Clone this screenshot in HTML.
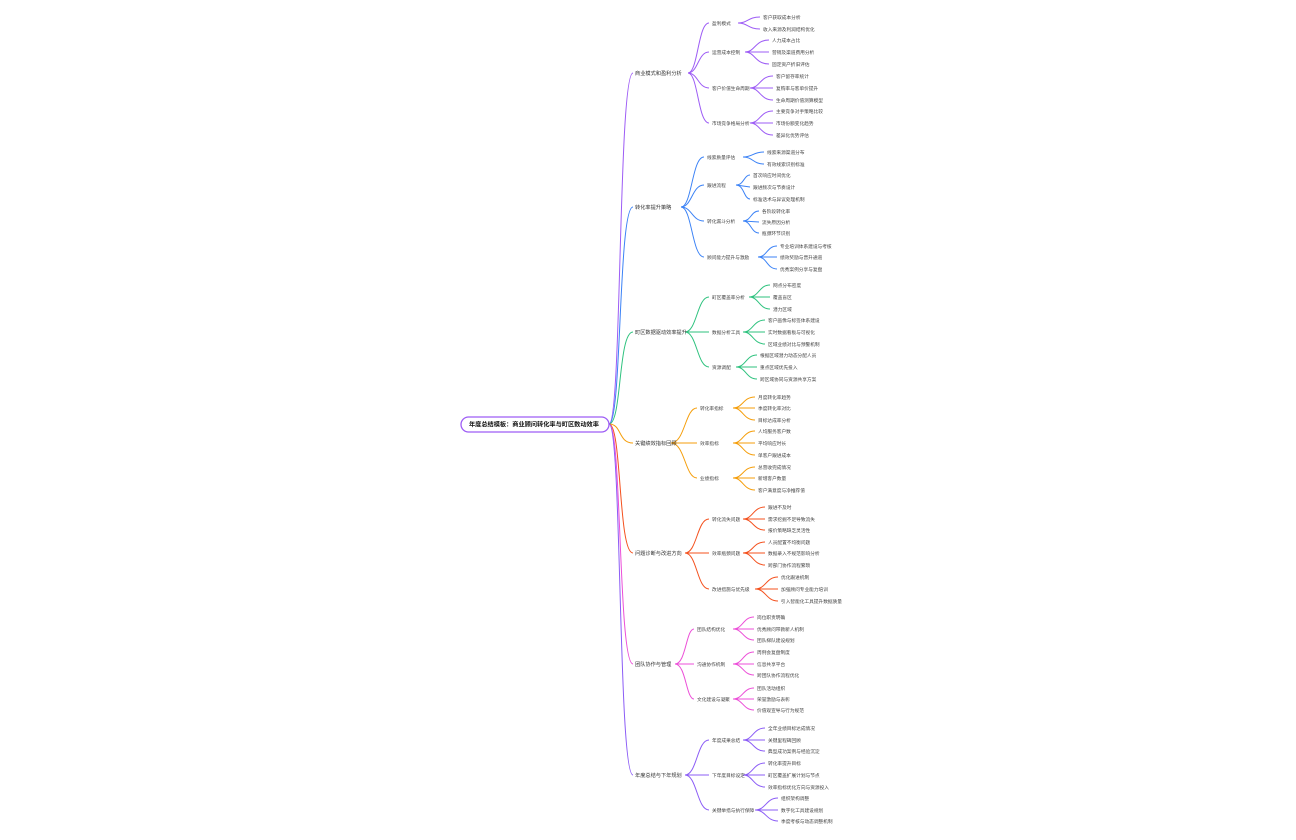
<!DOCTYPE html>
<html><head><meta charset="utf-8"><style>
html,body{margin:0;padding:0;background:#fff;}
svg{display:block;}
text{font-family:"Liberation Sans","Noto Sans CJK SC",sans-serif;font-size:4.7px;fill:#444;}
.l1{font-size:5.2px;fill:#333;}
.root{font-size:6.2px;font-weight:bold;fill:#111;}
path{fill:none;stroke-width:1;}
</style></head><body>
<svg width="1296" height="840" viewBox="0 0 1296 840" xmlns="http://www.w3.org/2000/svg">
<path d="M609,424 C622,424 618,73 633,73" stroke="#9d5cf5"/>
<path d="M609,424 C622,424 618,207 633,207" stroke="#3b82f6"/>
<path d="M609,424 C622,424 618,332 633,332" stroke="#2ec27e"/>
<path d="M609,424 C622,424 618,443 633,443" stroke="#f59e0b"/>
<path d="M609,424 C622,424 618,553 633,553" stroke="#f4511e"/>
<path d="M609,424 C622,424 618,664 633,664" stroke="#ec4fd8"/>
<path d="M609,424 C622,424 618,775 633,775" stroke="#8b5cf6"/>

<rect x="461" y="417" width="148" height="15" rx="7.5" fill="#fff" stroke="#9d5cf5" stroke-width="1.3"/>
<text class="root" x="469" y="426.5">年度总结模板：商业顾问转化率与町区数动效率</text>

<g stroke="#9d5cf5">
<path d="M688,73 C698,73 698,23 709,23"/><path d="M688,73 C698,73 698,52 709,52"/><path d="M688,73 C698,73 698,88 709,88"/><path d="M688,73 C698,73 698,123 709,123"/>
<path d="M738,23 C748,23 748,17 760,17"/><path d="M738,23 C748,23 748,29 760,29"/>
<path d="M745,52 C755,52 755,40 769,40"/><path d="M745,52 L769,52"/><path d="M745,52 C755,52 755,64 769,64"/>
<path d="M750,88 C760,88 760,76 773,76"/><path d="M750,88 L773,88"/><path d="M750,88 C760,88 760,100 773,100"/>
<path d="M750,123 C760,123 760,111 773,111"/><path d="M750,123 L773,123"/><path d="M750,123 C760,123 760,135 773,135"/>
</g>
<text class="l1" x="635" y="75">商业模式和盈利分析</text>
<text x="712" y="25">盈利模式</text><text x="763" y="19">客户获取成本分析</text><text x="763" y="31">收入来源及利润结构优化</text>
<text x="712" y="54">运营成本控制</text><text x="772" y="42">人力成本占比</text><text x="772" y="54">营销及渠道费用分析</text><text x="772" y="66">固定资产折旧评估</text>
<text x="712" y="90">客户价值生命周期</text><text x="776" y="78">客户留存率统计</text><text x="776" y="90">复购率与客单价提升</text><text x="776" y="102">生命周期价值测算模型</text>
<text x="712" y="125">市场竞争格局分析</text><text x="776" y="113">主要竞争对手策略比较</text><text x="776" y="125">市场份额变化趋势</text><text x="776" y="137">差异化优势评估</text>

<g stroke="#3b82f6">
<path d="M681,207 C692,207 692,157 704,157"/><path d="M681,207 C692,207 692,185 704,185"/><path d="M681,207 C692,207 692,221 704,221"/><path d="M681,207 C692,207 692,257 704,257"/>
<path d="M743,157 C753,157 753,152 764,152"/><path d="M743,157 C753,157 753,164 764,164"/>
<path d="M736,185 C744,185 744,175 750,175"/><path d="M736,185 L750,187"/><path d="M736,185 C744,185 744,199 750,199"/>
<path d="M743,221 C751,221 751,211 759,211"/><path d="M743,221 L759,222"/><path d="M743,221 C751,221 751,233 759,233"/>
<path d="M758,257 C767,257 767,246 777,246"/><path d="M758,257 L777,257"/><path d="M758,257 C767,257 767,269 777,269"/>
</g>
<text class="l1" x="635" y="209">转化率提升策略</text>
<text x="707" y="159">线索质量评估</text><text x="767" y="154">线索来源渠道分布</text><text x="767" y="166">有效线索识别标准</text>
<text x="707" y="187">跟进流程</text><text x="753" y="177">首次响应时间优化</text><text x="753" y="189">跟进频次与节奏设计</text><text x="753" y="201">标准话术与异议处理机制</text>
<text x="707" y="223">转化漏斗分析</text><text x="762" y="213">各阶段转化率</text><text x="762" y="224">流失原因分析</text><text x="762" y="235">瓶颈环节识别</text>
<text x="707" y="259">顾问能力提升与激励</text><text x="780" y="248">专业培训体系建设与考核</text><text x="780" y="259">绩效奖励与晋升通道</text><text x="780" y="271">优秀案例分享与复盘</text>

<g stroke="#2ec27e">
<path d="M685,332 C697,332 697,297 709,297"/><path d="M685,332 L709,332"/><path d="M685,332 C697,332 697,367 709,367"/>
<path d="M749,297 C759,297 759,285 770,285"/><path d="M749,297 L770,297"/><path d="M749,297 C759,297 759,309 770,309"/>
<path d="M743,332 C753,332 753,320 765,320"/><path d="M743,332 L765,332"/><path d="M743,332 C753,332 753,344 765,344"/>
<path d="M736,367 C746,367 746,355 757,355"/><path d="M736,367 L757,367"/><path d="M736,367 C746,367 746,379 757,379"/>
</g>
<text class="l1" x="635" y="334">町区数据驱动效率提升</text>
<text x="712" y="299">町区覆盖率分析</text><text x="773" y="287">网点分布密度</text><text x="773" y="299">覆盖盲区</text><text x="773" y="311">潜力区域</text>
<text x="712" y="334">数据分析工具</text><text x="768" y="322">客户画像与标签体系建设</text><text x="768" y="334">实时数据看板与可视化</text><text x="768" y="346">区域业绩对比与预警机制</text>
<text x="712" y="369">资源调配</text><text x="760" y="357">根据区域潜力动态分配人员</text><text x="760" y="369">重点区域优先投入</text><text x="760" y="381">跨区域协同与资源共享方案</text>

<g stroke="#f59e0b">
<path d="M671,443 C685,443 685,408 697,408"/><path d="M671,443 L697,443"/><path d="M671,443 C685,443 685,478 697,478"/>
<path d="M733,408 C743,408 743,397 755,397"/><path d="M733,408 L755,408"/><path d="M733,408 C743,408 743,420 755,420"/>
<path d="M733,443 C743,443 743,431 755,431"/><path d="M733,443 L755,443"/><path d="M733,443 C743,443 743,455 755,455"/>
<path d="M733,478 C743,478 743,467 755,467"/><path d="M733,478 L755,478"/><path d="M733,478 C743,478 743,490 755,490"/>
</g>
<text class="l1" x="635" y="445">关键绩效指标回顾</text>
<text x="700" y="410">转化率指标</text><text x="758" y="399">月度转化率趋势</text><text x="758" y="410">季度转化率对比</text><text x="758" y="422">目标达成率分析</text>
<text x="700" y="445">效率指标</text><text x="758" y="433">人均服务客户数</text><text x="758" y="445">平均响应时长</text><text x="758" y="457">单客户跟进成本</text>
<text x="700" y="480">业绩指标</text><text x="758" y="469">总营收完成情况</text><text x="758" y="480">新增客户数量</text><text x="758" y="492">客户满意度与净推荐值</text>

<g stroke="#f4511e">
<path d="M685,553 C697,553 697,519 709,519"/><path d="M685,553 L709,553"/><path d="M685,553 C697,553 697,589 709,589"/>
<path d="M743,519 C753,519 753,507 765,507"/><path d="M743,519 L765,519"/><path d="M743,519 C753,519 753,530 765,530"/>
<path d="M743,553 C753,553 753,542 765,542"/><path d="M743,553 L765,553"/><path d="M743,553 C753,553 753,565 765,565"/>
<path d="M755,589 C766,589 766,577 778,577"/><path d="M755,589 L778,589"/><path d="M755,589 C766,589 766,601 778,601"/>
</g>
<text class="l1" x="635" y="555">问题诊断与改进方向</text>
<text x="712" y="521">转化流失问题</text><text x="768" y="509">跟进不及时</text><text x="768" y="521">需求挖掘不足导致流失</text><text x="768" y="532">报价策略缺乏灵活性</text>
<text x="712" y="555">效率瓶颈问题</text><text x="768" y="544">人员配置不均衡问题</text><text x="768" y="555">数据录入不规范影响分析</text><text x="768" y="567">跨部门协作流程繁琐</text>
<text x="712" y="591">改进措施与优先级</text><text x="781" y="579">优化跟进机制</text><text x="781" y="591">加强顾问专业能力培训</text><text x="781" y="603">引入智能化工具提升数据质量</text>

<g stroke="#ec4fd8">
<path d="M675,664 C686,664 686,629 694,629"/><path d="M675,664 L694,664"/><path d="M675,664 C686,664 686,699 694,699"/>
<path d="M733,629 C743,629 743,617 754,617"/><path d="M733,629 L754,629"/><path d="M733,629 C743,629 743,640 754,640"/>
<path d="M733,664 C743,664 743,652 754,652"/><path d="M733,664 L754,664"/><path d="M733,664 C743,664 743,675 754,675"/>
<path d="M733,699 C743,699 743,688 754,688"/><path d="M733,699 L754,699"/><path d="M733,699 C743,699 743,710 754,710"/>
</g>
<text class="l1" x="635" y="666">团队协作与管理</text>
<text x="697" y="631">团队结构优化</text><text x="757" y="619">岗位职责明确</text><text x="757" y="631">优秀顾问带教新人机制</text><text x="757" y="642">团队梯队建设规划</text>
<text x="697" y="666">沟通协作机制</text><text x="757" y="654">周例会复盘制度</text><text x="757" y="666">信息共享平台</text><text x="757" y="677">跨团队协作流程优化</text>
<text x="697" y="701">文化建设与凝聚</text><text x="757" y="690">团队活动组织</text><text x="757" y="701">荣誉激励与表彰</text><text x="757" y="712">价值观宣导与行为规范</text>

<g stroke="#8b5cf6">
<path d="M685,775 C697,775 697,740 709,740"/><path d="M685,775 L709,775"/><path d="M685,775 C697,775 697,810 709,810"/>
<path d="M743,740 C753,740 753,728 765,728"/><path d="M743,740 L765,740"/><path d="M743,740 C753,740 753,751 765,751"/>
<path d="M743,775 C753,775 753,763 765,763"/><path d="M743,775 L765,775"/><path d="M743,775 C753,775 753,787 765,787"/>
<path d="M755,810 C766,810 766,798 778,798"/><path d="M755,810 L778,810"/><path d="M755,810 C766,810 766,821 778,821"/>
</g>
<text class="l1" x="635" y="777">年度总结与下年规划</text>
<text x="712" y="742">年度成果总结</text><text x="768" y="730">全年业绩目标达成情况</text><text x="768" y="742">关键里程碑回顾</text><text x="768" y="753">典型成功案例与经验沉淀</text>
<text x="712" y="777">下年度目标设定</text><text x="768" y="765">转化率提升目标</text><text x="768" y="777">町区覆盖扩展计划与节点</text><text x="768" y="789">效率指标优化方向与资源投入</text>
<text x="712" y="812">关键举措与执行保障</text><text x="781" y="800">组织架构调整</text><text x="781" y="812">数字化工具建设规划</text><text x="781" y="823">季度考核与动态调整机制</text>
</svg>
</body></html>
